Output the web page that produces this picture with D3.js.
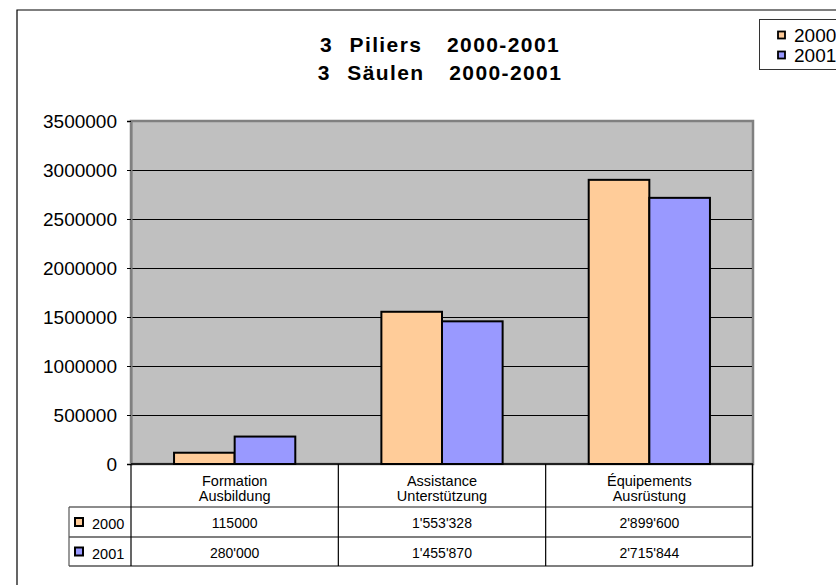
<!DOCTYPE html>
<html><head><meta charset="utf-8">
<script src="https://cdn.jsdelivr.net/npm/d3@7"></script>
<style>
html,body{margin:0;padding:0;background:#fff;}
svg{display:block;font-family:"Liberation Sans",Arial,sans-serif;}
</style></head>
<body>
<svg id="c" width="836" height="585"></svg>
<script>
const categories = [["Formation","Ausbildung"],["Assistance","Unterstützung"],["Équipements","Ausrüstung"]];
const series = ["2000","2001"];
const values2000 = [115000, 1553328, 2899600];
const values2001 = [280000, 1455870, 2715844];
const labels2000 = ["115000","1'553'328","2'899'600"];
const labels2001 = ["280'000","1'455'870","2'715'844"];
const yTicks = [0,500000,1000000,1500000,2000000,2500000,3000000,3500000];
const colors = ["#ffcc99","#9999ff"];
const titleLines = ["3  Piliers   2000-2001","3  Säulen   2000-2001"];

const values = [values2000, values2001];
const labels = [labels2000, labels2001];

const svg = d3.select("#c");
const L = 131, R = 753, T = 121, B = 464;

// outer chart border
svg.append("path").attr("d","M17,585V10H836").attr("fill","none").attr("stroke","#000").attr("stroke-width",1.2);

// title
svg.selectAll("text.title").data(titleLines).join("text")
  .attr("class","title").attr("x",440).attr("y",(d,i)=>52+i*28)
  .attr("text-anchor","middle").attr("font-size",21).attr("font-weight","bold")
  .attr("letter-spacing",1.4).attr("word-spacing",1).style("white-space","pre")
  .text(d=>d);

// scales
const x0 = d3.scaleBand().domain(d3.range(categories.length)).range([L,R]);
const x1 = d3.scaleBand().domain(series).range([0,x0.bandwidth()]).paddingInner(0).paddingOuter(0.71);
const y = d3.scaleLinear().domain([0,3500000]).range([B,T]);

// plot area
svg.append("rect").attr("x",L).attr("y",T).attr("width",R-L).attr("height",B-T)
  .attr("fill","#c0c0c0").attr("stroke","#808080").attr("stroke-width",2.5);

// gridlines
svg.selectAll("line.grid").data(yTicks.filter(t=>t>0 && t<3500000)).join("line")
  .attr("x1",L+1).attr("x2",R-1).attr("y1",d=>Math.round(y(d))+0.5).attr("y2",d=>Math.round(y(d))+0.5)
  .attr("stroke","#000").attr("stroke-width",1);

// y axis
const yAxis = svg.append("g").attr("transform",`translate(${L},0)`)
  .call(d3.axisLeft(y).tickValues(yTicks).tickFormat(d3.format("d")).tickSize(4).tickPadding(10));
yAxis.select(".domain").attr("stroke","#808080").attr("stroke-width",2);
yAxis.selectAll(".tick line").attr("stroke","#000");
yAxis.selectAll(".tick text").attr("font-size",19).attr("fill","#000")
  .attr("font-family","Liberation Sans, Arial, sans-serif");

// bars
const groups = svg.selectAll("g.cat").data(categories.map((c,i)=>i)).join("g")
  .attr("class","cat").attr("transform",i=>`translate(${x0(i)},0)`);
groups.selectAll("rect").data(i=>series.map((s,j)=>({s, v: values[j][i], j}))).join("rect")
  .attr("x",d=>x1(d.s)).attr("width",x1.bandwidth())
  .attr("y",d=>y(d.v)).attr("height",d=>B-y(d.v))
  .attr("fill",d=>colors[d.j]).attr("stroke","#000").attr("stroke-width",2);

// zero line
svg.append("line").attr("x1",L).attr("x2",R).attr("y1",B).attr("y2",B).attr("stroke","#000").attr("stroke-width",1.5);

// data table
const rowTop = [507, 537], rowBot = [537, 566];
const legL = 69;
const tbl = svg.append("g");
tbl.append("line").attr("x1",legL).attr("x2",R).attr("y1",507).attr("y2",507).attr("stroke","#666").attr("stroke-width",1.5);
tbl.append("line").attr("x1",legL).attr("x2",R-2).attr("y1",537).attr("y2",537).attr("stroke","#000").attr("stroke-width",1.2);
tbl.append("line").attr("x1",legL).attr("x2",R).attr("y1",566).attr("y2",566).attr("stroke","#555").attr("stroke-width",1.5);
tbl.append("line").attr("x1",legL).attr("x2",legL).attr("y1",507).attr("y2",566).attr("stroke","#555").attr("stroke-width",1.2);
x0.domain().forEach(i=>{
  tbl.append("line").attr("x1",x0(i)).attr("x2",x0(i)).attr("y1",B).attr("y2",566).attr("stroke","#000").attr("stroke-width",1.2);
});
tbl.append("line").attr("x1",R-0.5).attr("x2",R-0.5).attr("y1",B).attr("y2",566).attr("stroke","#000").attr("stroke-width",1.5);

// header text
categories.forEach((c,i)=>{
  tbl.append("text").attr("x",x0(i)+x0.bandwidth()/2).attr("y",486)
    .attr("text-anchor","middle").attr("font-size",14.5)
    .selectAll("tspan").data(c).join("tspan")
    .attr("x",x0(i)+x0.bandwidth()/2).attr("dy",(d,k)=>k===0?0:15).text(d=>d);
});
// rows
series.forEach((s,j)=>{
  const cy = (rowTop[j]+rowBot[j])/2;
  tbl.append("rect").attr("x",75).attr("y",cy-4).attr("width",8).attr("height",8)
    .attr("fill",colors[j]).attr("stroke","#000").attr("stroke-width",2);
  tbl.append("text").attr("x",92).attr("y",cy+7).attr("font-size",14.5).text(s);
  labels[j].forEach((lab,i)=>{
    tbl.append("text").attr("x",x0(i)+x0.bandwidth()/2).attr("y",cy+6)
      .attr("text-anchor","middle").attr("font-size",14).text(lab);
  });
});

// legend (top right)
const lg = svg.append("g");
lg.append("rect").attr("x",759.5).attr("y",19.5).attr("width",100).attr("height",50)
  .attr("fill","#fff").attr("stroke","#333").attr("stroke-width",1);
series.forEach((s,j)=>{
  const cy = 35 + j*20;
  lg.append("rect").attr("x",778).attr("y",cy-3.5).attr("width",7).attr("height",7)
    .attr("fill",colors[j]).attr("stroke","#000").attr("stroke-width",1.8);
  lg.append("text").attr("x",794).attr("y",cy+7).attr("font-size",19).text(s);
});
</script>
</body></html>
